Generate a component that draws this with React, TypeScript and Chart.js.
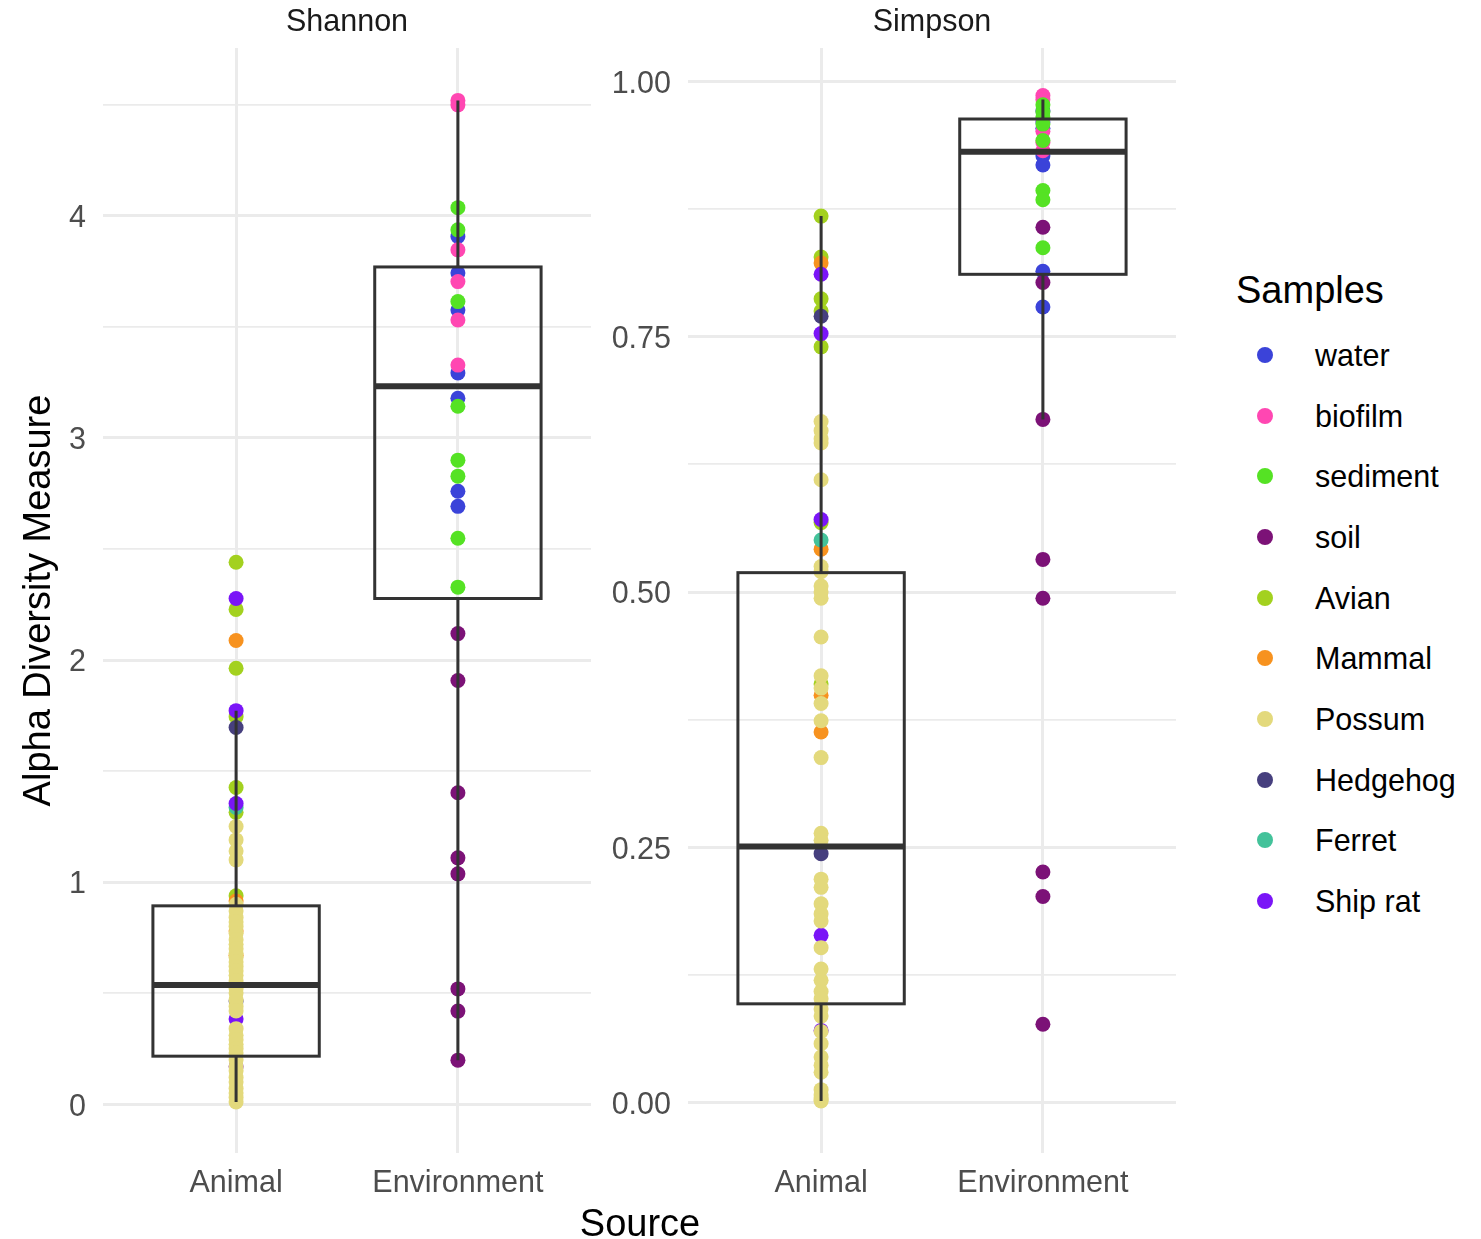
import React, { useEffect, useRef } from "react";
import { Chart, registerables } from "chart.js";
Chart.register(...registerables);

const FONT = '"Liberation Sans", Arial, sans-serif';

const categories = ["Animal", "Environment"];
const sampleNames = ["water", "biofilm", "sediment", "soil", "Avian", "Mammal", "Possum", "Hedgehog", "Ferret", "Ship rat"];
const sampleColors = ["#3B43D9", "#FF47B2", "#55E224", "#7C1277", "#A3D11F", "#F7921F", "#E3D97C", "#463F7E", "#43C29A", "#7A15F7"];
// 1 = Animal, 2 = Environment
const sampleSource = [2, 2, 2, 2, 1, 1, 1, 1, 1, 1];
// drawing order (first = on top)
const drawOrder = ["Possum", "Ship rat", "Hedgehog", "Ferret", "Mammal", "Avian", "soil", "sediment", "biofilm", "water"];

// ---- Shannon values ----
const shannonWater = [3.907, 3.743, 3.576, 3.293, 3.179, 2.76, 2.692];
const shannonBiofilm = [4.52, 4.5, 3.847, 3.704, 3.531, 3.328];
const shannonSediment = [4.037, 3.937, 3.614, 3.143, 2.9, 2.828, 2.548, 2.328];
const shannonSoil = [2.119, 1.908, 1.402, 1.109, 1.037, 0.519, 0.419, 0.198];
const shannonAvian = [2.44, 2.228, 1.963, 1.745, 1.426, 1.314, 0.938];
const shannonMammal = [2.088, 0.915, 0.78, 0.67];
const shannonPossum = [
  1.25, 1.19, 1.14, 1.1, 0.9, 0.87, 0.84, 0.82, 0.8, 0.77, 0.74, 0.72, 0.7, 0.68,
  0.66, 0.64, 0.62, 0.6, 0.58, 0.555, 0.52, 0.5, 0.47, 0.44, 0.42, 0.34, 0.31, 0.29,
  0.27, 0.25, 0.23, 0.2, 0.17, 0.15, 0.12, 0.1, 0.07, 0.05, 0.03, 0.01,
];
const shannonHedgehog = [1.696, 0.464];
const shannonFerret = [1.336];
const shannonShipRat = [2.277, 1.772, 1.354, 0.383, 0.17];

// ---- Simpson values ----
const simpsonWater = [0.971, 0.96, 0.954, 0.927, 0.918, 0.814, 0.779];
const simpsonBiofilm = [0.986, 0.982, 0.963, 0.951, 0.94, 0.932];
const simpsonSediment = [0.977, 0.97, 0.965, 0.958, 0.942, 0.893, 0.884, 0.837];
const simpsonSoil = [0.857, 0.803, 0.669, 0.532, 0.494, 0.226, 0.202, 0.077];
const simpsonAvian = [0.868, 0.828, 0.787, 0.775, 0.74, 0.568, 0.41];
const simpsonMammal = [0.822, 0.542, 0.399, 0.363];
const simpsonPossum = [
  0.667, 0.658, 0.65, 0.646, 0.61, 0.525, 0.52, 0.506, 0.5, 0.494, 0.456, 0.418, 0.406,
  0.391, 0.374, 0.338, 0.264, 0.257, 0.219, 0.211, 0.195, 0.185, 0.178, 0.152, 0.131,
  0.12, 0.109, 0.102, 0.092, 0.085, 0.07, 0.058, 0.045, 0.037, 0.03, 0.013, 0.008,
  0.005, 0.003, 0.002,
];
const simpsonHedgehog = [0.77, 0.244];
const simpsonFerret = [0.551];
const simpsonShipRat = [0.811, 0.753, 0.571, 0.164, 0.071];

// ---- Box statistics: [lower whisker, Q1, median, Q3, upper whisker] ----
const shannonBoxAnimal = [0.01, 0.216, 0.537, 0.893, 1.772];
const shannonBoxEnvironment = [0.198, 2.277, 3.233, 3.77, 4.52];
const simpsonBoxAnimal = [0.002, 0.097, 0.251, 0.519, 0.868];
const simpsonBoxEnvironment = [0.669, 0.811, 0.931, 0.963, 0.982];

// ---- Tick values ----
const shannonMajorTicks = [0, 1, 2, 3, 4];
const shannonMinorTicks = [0.5, 1.5, 2.5, 3.5, 4.5];
const simpsonMajorTicks = [0, 0.25, 0.5, 0.75, 1.0];
const simpsonMinorTicks = [0.125, 0.375, 0.625, 0.875];

const shannonSeries = [shannonWater, shannonBiofilm, shannonSediment, shannonSoil, shannonAvian, shannonMammal, shannonPossum, shannonHedgehog, shannonFerret, shannonShipRat];
const simpsonSeries = [simpsonWater, simpsonBiofilm, simpsonSediment, simpsonSoil, simpsonAvian, simpsonMammal, simpsonPossum, simpsonHedgehog, simpsonFerret, simpsonShipRat];

type PanelParams = {
  series: number[][];
  boxes: number[][];
  title: string;
  yMin: number;
  yMax: number;
  major: number[];
  minor: number[];
  decimals: number;
  yAxisWidth: number;
  padRight: number;
  yTitle?: string;
};

function buildConfig(p: PanelParams): any {
  const datasets = drawOrder.map((name) => {
    const i = sampleNames.indexOf(name);
    return {
      label: name,
      data: p.series[i].map((v) => ({ x: sampleSource[i], y: v })),
      backgroundColor: sampleColors[i],
      borderWidth: 0,
      pointRadius: 7.5,
      pointHoverRadius: 7.5,
    };
  });

  const boxPlugin = {
    id: "boxes-" + p.title,
    afterDatasetsDraw(chart: any) {
      const { ctx } = chart;
      const xs = chart.scales.x;
      const ys = chart.scales.y;
      ctx.save();
      ctx.strokeStyle = "#333333";
      p.boxes.forEach((b, i) => {
        const cx = xs.getPixelForValue(i + 1);
        const hw = xs.getPixelForValue(i + 1 + 0.375) - cx;
        const [lo, q1, med, q3, hi] = b.map((v) => ys.getPixelForValue(v));
        ctx.lineWidth = 3;
        ctx.beginPath();
        ctx.moveTo(cx, q3);
        ctx.lineTo(cx, hi);
        ctx.moveTo(cx, q1);
        ctx.lineTo(cx, lo);
        ctx.stroke();
        ctx.strokeRect(cx - hw, q3, 2 * hw, q1 - q3);
        ctx.lineWidth = 6;
        ctx.beginPath();
        ctx.moveTo(cx - hw, med);
        ctx.lineTo(cx + hw, med);
        ctx.stroke();
      });
      ctx.restore();
    },
    afterDraw(chart: any) {
      const { ctx, chartArea } = chart;
      ctx.save();
      ctx.font = `30.5px ${FONT}`;
      ctx.fillStyle = "#1a1a1a";
      ctx.textAlign = "center";
      ctx.textBaseline = "middle";
      ctx.fillText(p.title, (chartArea.left + chartArea.right) / 2, 23);
      ctx.restore();
    },
  };

  const allTicks = [...p.major, ...p.minor].sort((a, b) => a - b);

  return {
    type: "scatter",
    data: { datasets },
    plugins: [boxPlugin],
    options: {
      animation: false,
      responsive: false,
      events: [],
      layout: { padding: { left: 0, right: p.padRight, top: 48, bottom: 0 } },
      plugins: { legend: { display: false }, tooltip: { enabled: false }, title: { display: false } },
      scales: {
        x: {
          type: "linear",
          min: 0.4,
          max: 2.6,
          bounds: "data",
          afterBuildTicks: (s: any) => {
            s.ticks = categories.map((_, i) => ({ value: i + 1 }));
          },
          afterFit: (s: any) => {
            s.height = 86;
          },
          ticks: {
            padding: 12,
            color: "#4d4d4d",
            font: { family: FONT, size: 30.5 },
            autoSkip: false,
            maxRotation: 0,
            callback: (v: number) => categories[Math.round(v) - 1],
          },
          grid: { drawTicks: false, color: "#ebebeb", lineWidth: 3 },
          border: { display: false },
        },
        y: {
          type: "linear",
          min: p.yMin,
          max: p.yMax,
          bounds: "data",
          afterBuildTicks: (s: any) => {
            s.ticks = allTicks.map((v) => ({ value: v }));
          },
          afterFit: (s: any) => {
            s.width = p.yAxisWidth;
          },
          ticks: {
            padding: 17,
            labelOffset: 3,
            color: "#4d4d4d",
            font: { family: FONT, size: 30.5 },
            autoSkip: false,
            callback: (v: number) => (p.major.includes(v) ? v.toFixed(p.decimals) : ""),
          },
          grid: {
            drawTicks: false,
            color: "#ebebeb",
            lineWidth: (c: any) => (c.tick && p.major.includes(c.tick.value) ? 3 : 1.8),
          },
          border: { display: false },
          title: {
            display: !!p.yTitle,
            text: p.yTitle || "",
            color: "#000000",
            font: { family: FONT, size: 38 },
            padding: { top: 17, bottom: 0 },
          },
        },
      },
    },
  };
}

export default function App() {
  const ref1 = useRef<HTMLCanvasElement>(null);
  const ref2 = useRef<HTMLCanvasElement>(null);

  useEffect(() => {
    const c1 = new Chart(
      ref1.current as HTMLCanvasElement,
      buildConfig({
        series: shannonSeries,
        boxes: [shannonBoxAnimal, shannonBoxEnvironment],
        title: "Shannon",
        yMin: -0.22,
        yMax: 4.756,
        major: shannonMajorTicks,
        minor: shannonMinorTicks,
        decimals: 0,
        yAxisWidth: 103,
        padRight: 9,
        yTitle: "Alpha Diversity Measure",
      })
    );
    const c2 = new Chart(
      ref2.current as HTMLCanvasElement,
      buildConfig({
        series: simpsonSeries,
        boxes: [simpsonBoxAnimal, simpsonBoxEnvironment],
        title: "Simpson",
        yMin: -0.049,
        yMax: 1.0325,
        major: simpsonMajorTicks,
        minor: simpsonMinorTicks,
        decimals: 2,
        yAxisWidth: 88,
        padRight: 24,
      })
    );
    return () => {
      c1.destroy();
      c2.destroy();
    };
  }, []);

  const legendStart = 355;
  const legendStep = 60.67;

  return (
    <div
      style={{
        position: "absolute",
        left: 0,
        top: 0,
        width: 1481,
        height: 1239,
        background: "#ffffff",
        overflow: "hidden",
        fontFamily: FONT,
      }}
    >
      <canvas ref={ref1} width={600} height={1239} style={{ position: "absolute", left: 0, top: 0 }} />
      <canvas ref={ref2} width={600} height={1239} style={{ position: "absolute", left: 600, top: 0 }} />
      <div
        style={{
          position: "absolute",
          left: 440,
          width: 400,
          top: 1204,
          textAlign: "center",
          fontSize: 38,
          lineHeight: "38px",
          color: "#000",
        }}
      >
        Source
      </div>
      <div
        style={{
          position: "absolute",
          left: 1236,
          top: 271,
          fontSize: 38,
          lineHeight: "38px",
          color: "#000",
          whiteSpace: "nowrap",
        }}
      >
        Samples
      </div>
      {sampleNames.map((name, i) => {
        const cy = legendStart + i * legendStep;
        return (
          <React.Fragment key={name}>
            <div
              style={{
                position: "absolute",
                left: 1257,
                top: cy - 8,
                width: 16,
                height: 16,
                borderRadius: "50%",
                background: sampleColors[i],
              }}
            />
            <div
              style={{
                position: "absolute",
                left: 1315,
                top: cy - 15,
                fontSize: 30.5,
                lineHeight: "30px",
                color: "#000",
                whiteSpace: "nowrap",
              }}
            >
              {name}
            </div>
          </React.Fragment>
        );
      })}
    </div>
  );
}
